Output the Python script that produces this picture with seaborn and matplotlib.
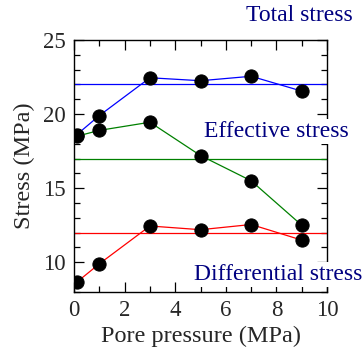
import matplotlib
matplotlib.use("Agg")
import matplotlib.pyplot as plt
from matplotlib.ticker import MultipleLocator
import seaborn as sns
import pandas as pd

pore_pressure = [0.1, 1, 3, 5, 7, 9]
total_stress = [18.6, 19.9, 22.45, 22.25, 22.55, 21.55]
effective_stress = [18.5, 18.9, 19.45, 17.2, 15.5, 12.5]
differential_stress = [8.65, 9.9, 12.45, 12.2, 12.55, 11.5]
mean_levels = {"Total stress": 22.0, "Effective stress": 17.0, "Differential stress": 12.0}
series_colors = {"Total stress": "#0000ff", "Effective stress": "#008000", "Differential stress": "#ff0000"}

sns.set_style("ticks")
plt.rcParams["font.family"] = "serif"
plt.rcParams["font.serif"] = ["Liberation Serif", "DejaVu Serif"]

df = pd.DataFrame({
    "Pore pressure": pore_pressure * 3,
    "Stress": total_stress + effective_stress + differential_stress,
    "Series": ["Total stress"] * 6 + ["Effective stress"] * 6 + ["Differential stress"] * 6,
})

fig = plt.figure(figsize=(3.63, 3.60), dpi=100)
ax = fig.add_axes([0.204, 0.189, 0.697, 0.700])

for name, level in mean_levels.items():
    ax.axhline(level, color=series_colors[name], lw=0.9, zorder=1)

for name in ["Total stress", "Effective stress", "Differential stress"]:
    sub = df[df["Series"] == name]
    sns.lineplot(data=sub, x="Pore pressure", y="Stress", ax=ax, color=series_colors[name],
                 lw=0.9, marker="o", markersize=9.5, markerfacecolor="black",
                 markeredgecolor="black", legend=False, zorder=3)

ax.set_xlim(0, 10)
ax.set_ylim(8, 25)
ax.xaxis.set_major_locator(MultipleLocator(2))
ax.xaxis.set_minor_locator(MultipleLocator(1))
ax.yaxis.set_major_locator(MultipleLocator(5))
ax.yaxis.set_minor_locator(MultipleLocator(1))
ax.tick_params(which="both", direction="in", top=True, right=True, labelsize=16.5, width=0.9, color="black")
ax.tick_params(which="major", length=7, pad=6)
ax.tick_params(which="minor", length=4)
for s in ax.spines.values():
    s.set_linewidth(1.0)
    s.set_color("black")

ax.set_xlabel("Pore pressure (MPa)", fontsize=17.5, labelpad=3)
ax.set_ylabel("Stress (MPa)", fontsize=17.5, labelpad=6)

navy = "#000080"
fig.text(0.973, 0.956, "Total stress", color=navy, fontsize=17, ha="right", va="center")
ax.text(1.085, 0.636, "Effective stress", color=navy, fontsize=17, ha="right", va="center",
        transform=ax.transAxes, zorder=5, clip_on=False,
        bbox=dict(facecolor="white", edgecolor="none", pad=1.5))
ax.text(1.14, 0.068, "Differential stress", color=navy, fontsize=17, ha="right", va="center",
        transform=ax.transAxes, zorder=5, clip_on=False,
        bbox=dict(facecolor="white", edgecolor="none", pad=1.5))

fig.savefig("out.png", dpi=100)
